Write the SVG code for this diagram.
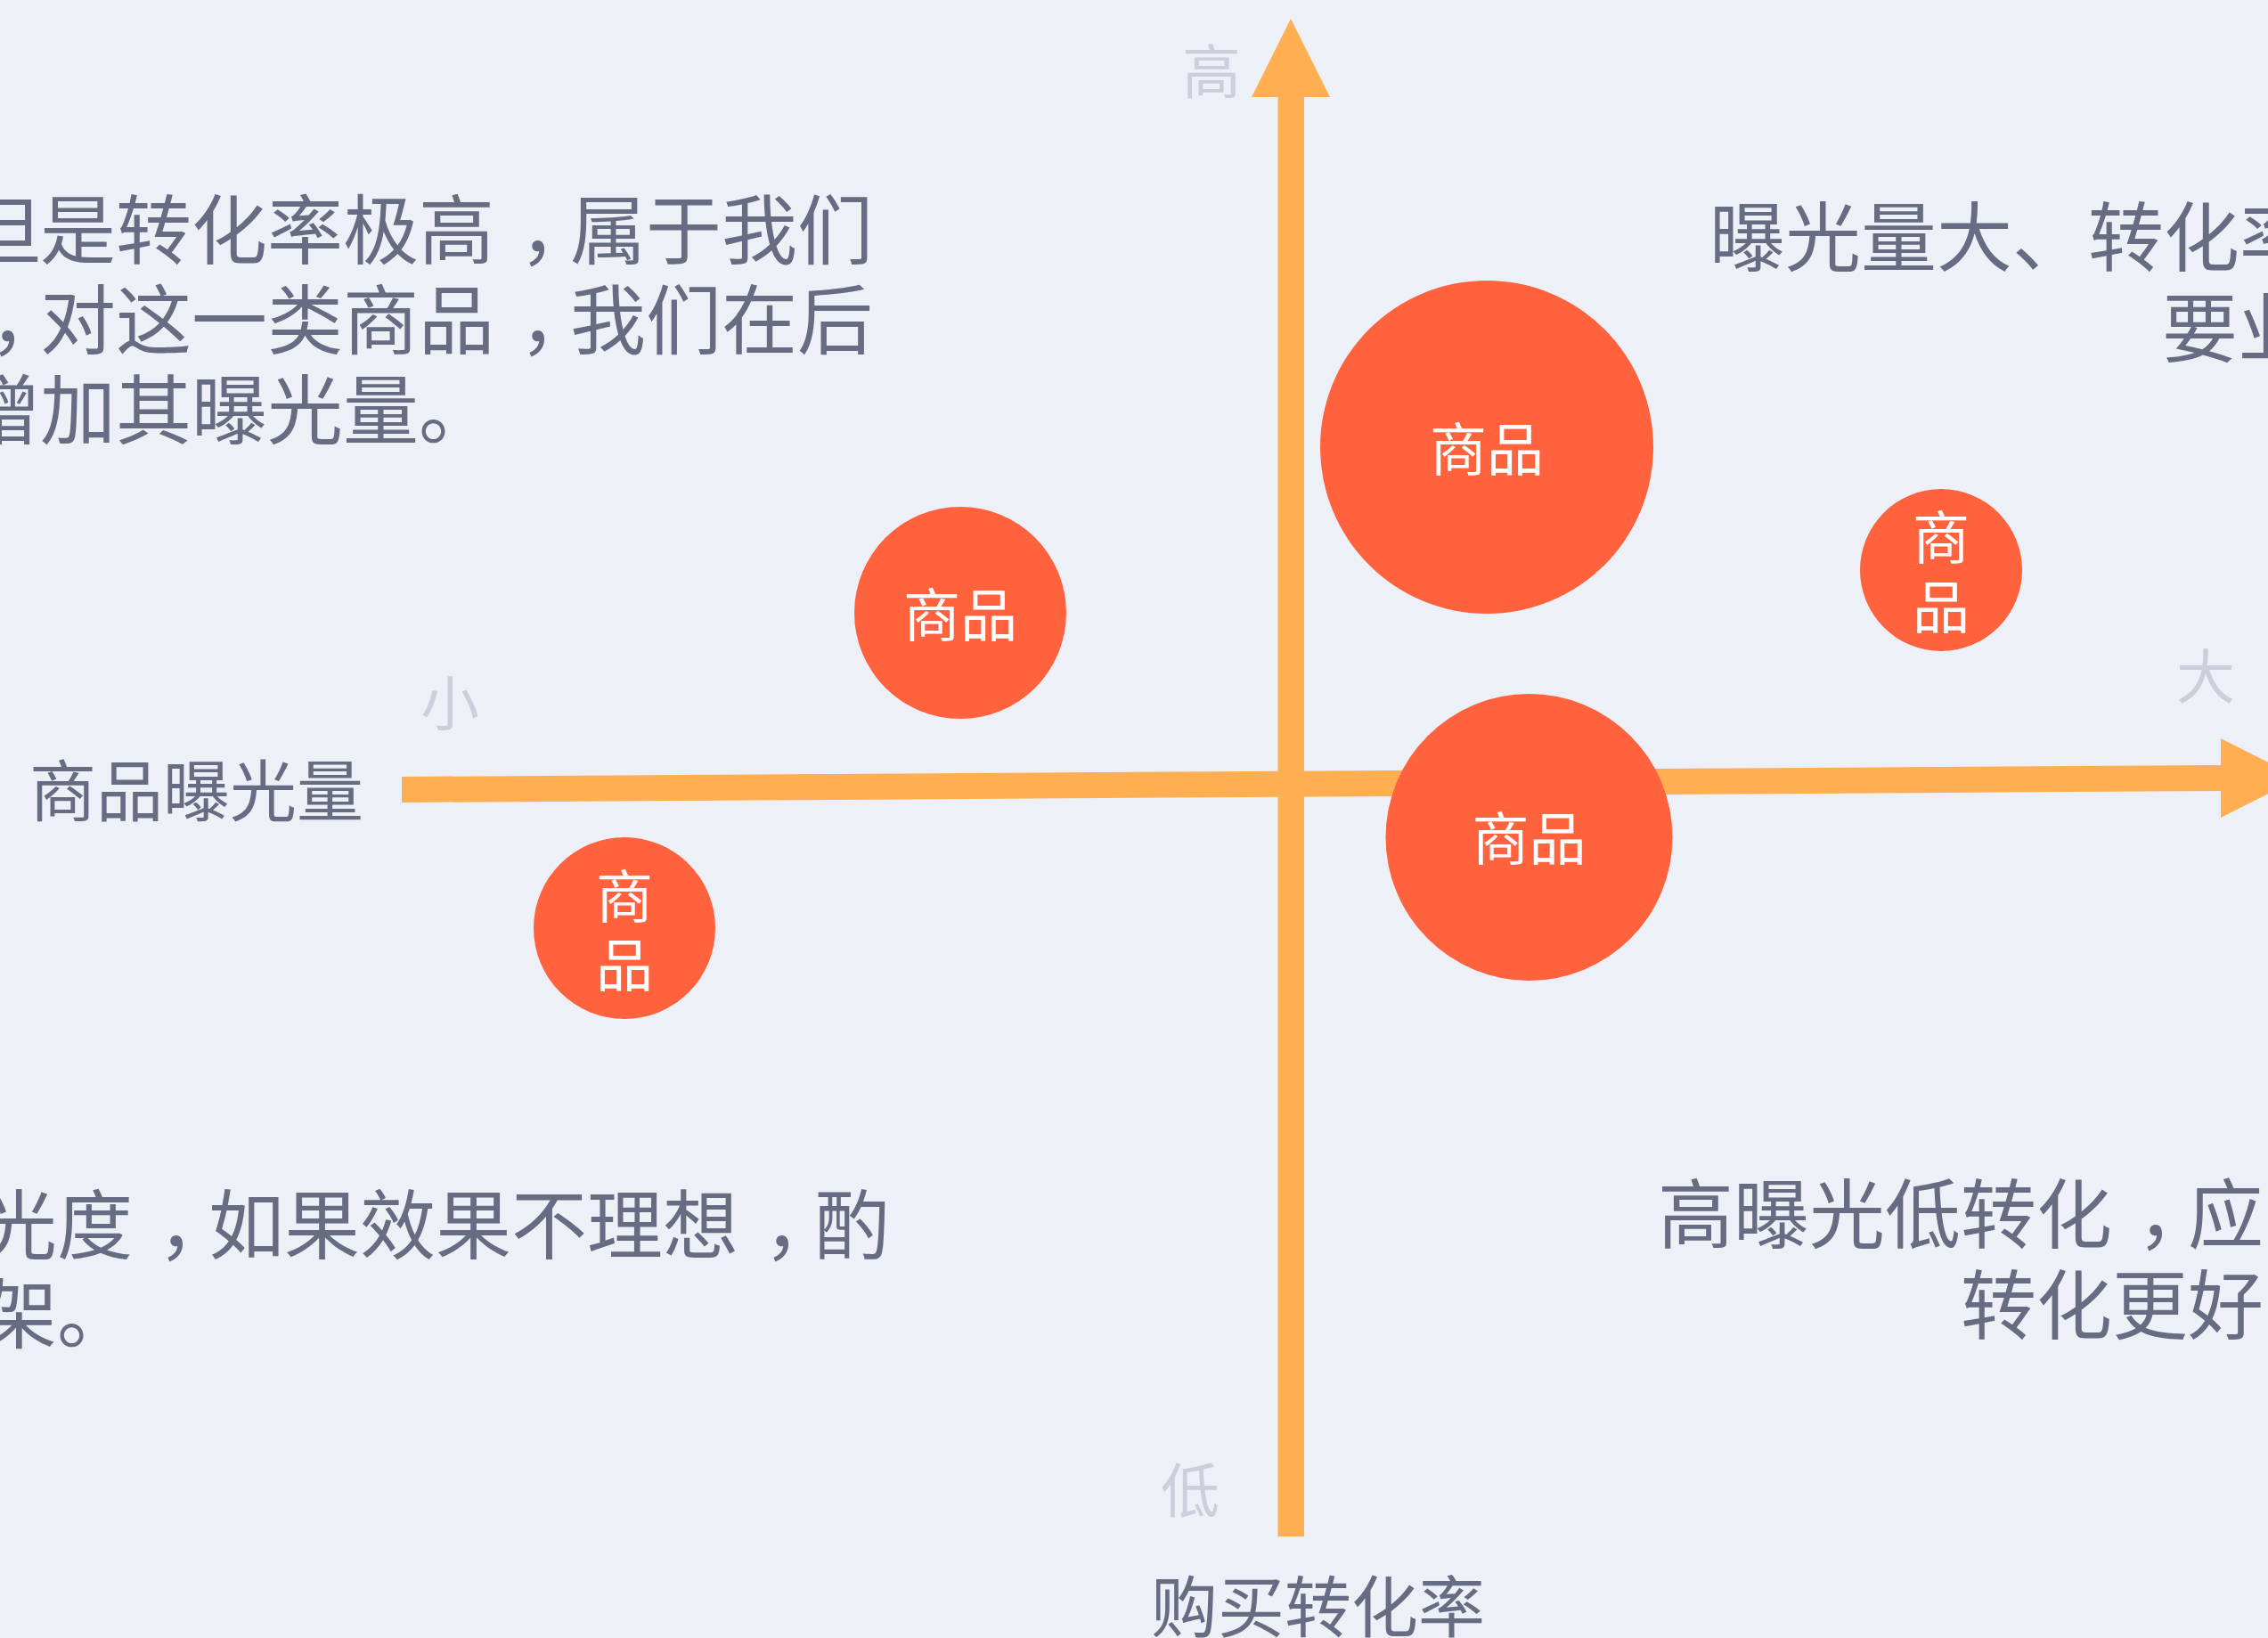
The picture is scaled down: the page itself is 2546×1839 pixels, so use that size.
<svg xmlns="http://www.w3.org/2000/svg" width="2546" height="1839" viewBox="0 0 2546 1839">
<style>
.t{font-family:"Noto Sans CJK SC","Noto Sans CJK TC",sans-serif;fill:#676C83}
.big{font-size:85px}
.lab{font-size:75px}
.ax{font-family:"Noto Sans CJK SC",sans-serif;font-size:66px;fill:#CBCFDB;text-anchor:middle}
.node circle{fill:#FF623D}
.node text{font-family:"Noto Sans CJK SC",sans-serif;font-size:64px;fill:#FFFFFF;text-anchor:middle}
.axis{fill:#FFAE52}
</style>
<rect width="2546" height="1839" fill="#EDF0F7"/>
<g id="connectors">
<rect class="axis" x="1434.5" y="105" width="29.5" height="1620"/>
<polygon class="axis" points="1449,21 1405,109 1493,109"/>
<polygon class="axis" points="451,872 2495,859 2495,888 451,901"/>
<polygon class="axis" points="2493,829 2581,873.5 2493,918"/>
</g>
<g id="axis-labels">
<text class="ax" x="1360" y="105">高</text>
<text class="ax" x="1336" y="1698">低</text>
<text class="ax" x="505" y="814">小</text>
<text class="ax" x="2476" y="784">大</text>
<text class="t lab" x="33" y="916">商品曝光量</text>
<text class="t lab" x="1292" y="1832">购买转化率</text>
</g>
<g id="text-top-left" class="t big">
<text x="-40" y="290">但是转化率极高<tspan dx="28">，</tspan><tspan dx="-28">属于我们</tspan></text>
<text x="-40" y="391"><tspan dx="28">，</tspan><tspan dx="-28">对这一类商品</tspan><tspan dx="28">，</tspan><tspan dx="-28">我们在后</tspan></text>
<text x="-40" y="492">增加其曝光量。</text>
</g>
<g id="text-top-right" class="t big">
<text x="1919" y="298">曝光量大、转化率</text>
<text x="2427" y="400">要业</text>
</g>
<g id="text-bottom-left" class="t big">
<text x="-21" y="1407">光度<tspan dx="28">，</tspan><tspan dx="-28">如果效果不理想</tspan><tspan dx="28">，</tspan><tspan dx="-28">酌</tspan></text>
<text x="-21" y="1507">架。</text>
</g>
<g id="text-bottom-right" class="t big">
<text x="1861" y="1395">高曝光低转化<tspan dx="28">，</tspan><tspan dx="-28">应</tspan></text>
<text x="2201" y="1497">转化更好</text>
</g>
<g id="node-1" class="node">
<circle cx="1669" cy="502" r="187"/>
<text x="1669" y="528">商品</text>
</g>
<g id="node-2" class="node">
<circle cx="1078" cy="688" r="119"/>
<text x="1078" y="714">商品</text>
</g>
<g id="node-3" class="node">
<circle cx="2179" cy="640" r="91"/>
<text x="2179" y="627">商</text>
<text x="2179" y="705">品</text>
</g>
<g id="node-4" class="node">
<circle cx="1716.5" cy="940" r="161"/>
<text x="1716.5" y="965">商品</text>
</g>
<g id="node-5" class="node">
<circle cx="701" cy="1042" r="102"/>
<text x="701" y="1030">商</text>
<text x="701" y="1107">品</text>
</g>
</svg>
